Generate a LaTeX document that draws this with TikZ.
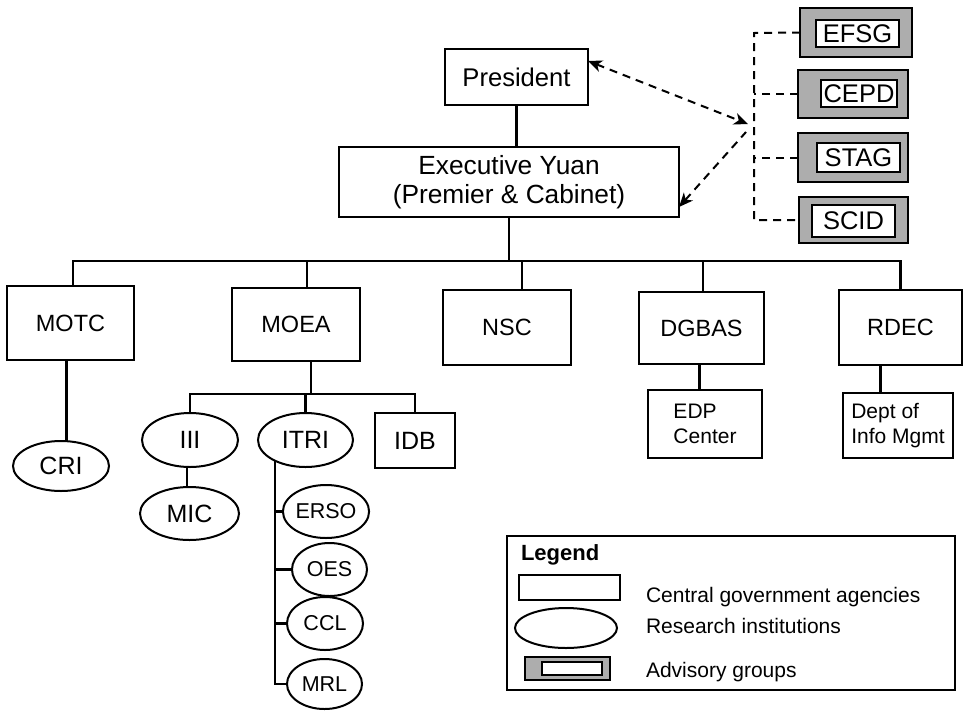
\documentclass[tikz,border=0pt]{standalone}
\usepackage{fontspec}
\setmainfont{Liberation Sans}
\usetikzlibrary{shapes.geometric,arrows.meta}
\begin{document}
\begin{tikzpicture}[x=1pt,y=-1pt,
  every node/.style={inner sep=0pt, outer sep=0pt},
  >={Stealth[length=14pt,width=12pt,inset=4pt]},
  agency/.style={draw, rectangle, line width=2pt, font=\fontsize{23.5}{28}\selectfont, align=center},
  small/.style={draw, rectangle, line width=2pt, font=\fontsize{21}{25}\selectfont, align=left},
  inst/.style={draw, ellipse, line width=2pt, font=\fontsize{25}{28}\selectfont},
  advout/.style={draw, rectangle, line width=2.6pt, fill=black!32},
  advin/.style={draw, rectangle, line width=2.4pt, fill=white, font=\fontsize{25.5}{28}\selectfont},
  conn/.style={line width=2.2pt},
  dconn/.style={line width=2pt, dash pattern=on 8pt off 6pt},
  legtext/.style={anchor=base west, font=\fontsize{21}{25}\selectfont}
]
\useasboundingbox (0,0) rectangle (963,710);

% top level
\node[agency, minimum width=143pt, minimum height=56pt, font=\fontsize{25.6}{28}\selectfont] (pres) at (516.5,77) {President};
\node[agency, minimum width=340pt, minimum height=70pt, font=\fontsize{26.3}{29}\selectfont] (exec) at (509,182) {Executive Yuan\\(Premier \& Cabinet)};

% ministries
\node[agency, minimum width=127pt, minimum height=74pt] (motc) at (70.5,323) {MOTC};
\node[agency, minimum width=128pt, minimum height=73pt] (moea) at (296,324.5) {MOEA};
\node[agency, minimum width=128pt, minimum height=75pt] (nsc) at (507,327.5) {NSC};
\node[agency, minimum width=125pt, minimum height=72pt] (dgbas) at (701.5,328) {DGBAS};
\node[agency, minimum width=123pt, minimum height=75pt] (rdec) at (900.5,327.5) {RDEC};

\node[small, minimum width=114pt, minimum height=68pt] (edp) at (705,424) {EDP\\Center};
\node[small, minimum width=110pt, minimum height=65pt] (dept) at (898,425.5) {Dept of\\Info Mgmt};

% research institutions
\node[inst, minimum width=96pt, minimum height=50pt] (cri) at (61,466) {CRI};
\node[inst, minimum width=96pt, minimum height=54pt] (iii) at (190,440) {III};
\node[inst, minimum width=95pt, minimum height=54pt] (itri) at (305.5,440) {ITRI};
\node[agency, minimum width=80pt, minimum height=55pt, font=\fontsize{25}{28}\selectfont] (idb) at (415,440.5) {IDB};
\node[inst, minimum width=99pt, minimum height=53pt] (mic) at (189.5,513.5) {MIC};
\node[inst, minimum width=76pt, minimum height=53pt, font=\fontsize{21.5}{25}\selectfont] (erso) at (326,511.5) {ERSO};
\node[inst, minimum width=75pt, minimum height=53pt, font=\fontsize{21.5}{25}\selectfont] (oes) at (329.5,569.5) {OES};
\node[inst, minimum width=76pt, minimum height=53pt, font=\fontsize{21.5}{25}\selectfont] (ccl) at (325,623.5) {CCL};
\node[inst, minimum width=75pt, minimum height=50pt, font=\fontsize{21.5}{25}\selectfont] (mrl) at (324.5,684) {MRL};

% advisory groups
\node[advout, minimum width=112pt, minimum height=49pt] (efsg) at (856,32.5) {};
\node[advin, minimum width=83pt, minimum height=27pt] (efsgi) at (857.5,33.5) {EFSG};
\node[advout, minimum width=110pt, minimum height=48pt] (cepd) at (853,94) {};
\node[advin, minimum width=76pt, minimum height=27pt] (cepdi) at (859,93.5) {CEPD};
\node[advout, minimum width=110pt, minimum height=49pt] (stag) at (853,157.5) {};
\node[advin, minimum width=83pt, minimum height=29pt] (stagi) at (858.5,157.5) {STAG};
\node[advout, minimum width=109pt, minimum height=46pt] (scid) at (853.5,220) {};
\node[advin, minimum width=83pt, minimum height=32pt] (scidi) at (853.5,221) {SCID};

% solid connectors
\draw[conn] (pres.south) -- (pres.south |- exec.north);
\coordinate (bus) at (509,261);
\draw[conn] (exec.south) -- (bus);
\draw[conn] ([xshift=2.5pt]motc.north) -- ([xshift=2.5pt]motc.north |- bus) -- (rdec.north |- bus) -- (rdec.north);
\draw[conn] ([xshift=11pt]moea.north) -- ([xshift=11pt]moea.north |- bus);
\draw[conn] ([xshift=15pt]nsc.north) -- ([xshift=15pt]nsc.north |- bus);
\draw[conn] ([xshift=1.5pt]dgbas.north) -- ([xshift=1.5pt]dgbas.north |- bus);
\draw[conn] ([xshift=-2pt]dgbas.south) -- ([xshift=-2pt]dgbas.south |- edp.north);
\draw[conn] ([xshift=-20pt]rdec.south) -- ([xshift=-20pt]rdec.south |- dept.north);
\draw[conn] ([xshift=-4pt]motc.south) -- ([xshift=-4pt]motc.south |- cri.north);

\coordinate (sub) at (311,394);
\draw[conn] ([xshift=15pt]moea.south) -- (sub);
\draw[conn] (iii.north) -- (iii.north |- sub) -- (idb.north |- sub) -- (idb.north);
\draw[conn] (itri.north) -- (itri.north |- sub);
\draw[conn] ([xshift=-3pt]iii.south) -- ([xshift=-3pt]iii.south |- mic.north);
\draw[conn] (itri.214) -- (itri.214 |- mrl.west) -- (mrl.west);
\draw[conn] (itri.214 |- erso.west) -- (erso.west);
\draw[conn] (itri.214 |- oes.west) -- (oes.west);
\draw[conn] (itri.214 |- ccl.west) -- (ccl.west);

% dashed advisory links
\coordinate (dtop) at (754,33);
\coordinate (dbot) at (754,220);
\draw[dconn] (efsg.west) -- (dtop) -- (dbot) -- (scid.west);
\draw[dconn] (cepd.west) -- (dtop |- cepd.west);
\draw[dconn] (stag.west) -- (dtop |- stag.west);
\coordinate (hubA) at (748,124);
\coordinate (hubB) at (746,132);
\draw[dconn, <->] ([yshift=16pt]pres.east) -- (hubA);
\draw[dconn, <-] ([yshift=-25pt]exec.east) -- (hubB);

% legend
\node[draw, rectangle, line width=1.8pt, minimum width=448pt, minimum height=154pt] (legend) at (731,613) {};
\node[anchor=base west, font=\bfseries\fontsize{22}{26}\selectfont] (legt) at (521,560) {Legend};
\node[draw, rectangle, line width=2pt, minimum width=101pt, minimum height=25pt] (lrect) at (569.5,587.5) {};
\node[legtext] (lrectt) at (646,602) {Central government agencies};
\node[draw, ellipse, line width=2pt, minimum width=102pt, minimum height=40pt] (lell) at (566,628) {};
\node[legtext] (lellt) at (646,633) {Research institutions};
\node[advout, minimum width=85pt, minimum height=23pt] (ladv) at (567.5,668.5) {};
\node[draw, rectangle, line width=2.4pt, fill=white, minimum width=60pt, minimum height=13pt] (ladvi) at (572,668.5) {};
\node[legtext] (ladvt) at (646,677) {Advisory groups};
\end{tikzpicture}
\end{document}
